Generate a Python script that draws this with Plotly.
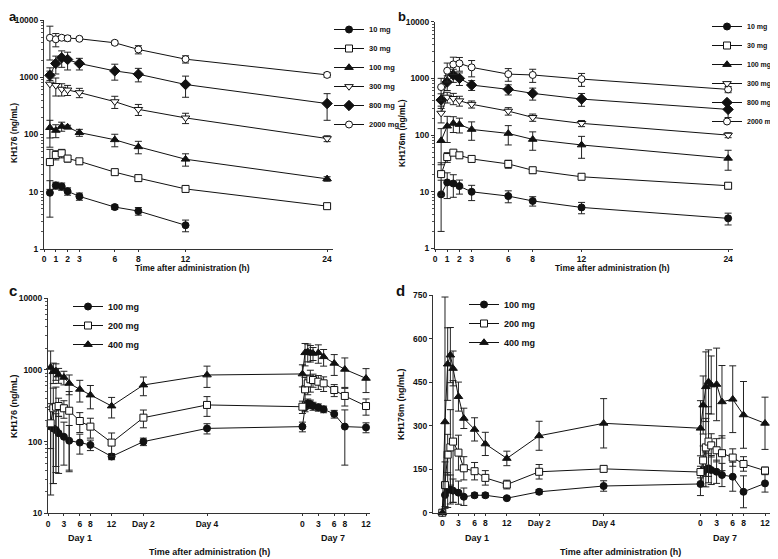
import plotly.graph_objects as go

# ---------------- data ----------------
TIME_AB = [0.5, 1, 1.5, 2, 3, 6, 8, 12, 24]
AB_TICKS = [0, 1, 2, 3, 6, 8, 12, 24]
DOSES_AB = ["10 mg", "30 mg", "100 mg", "300 mg", "800 mg", "2000 mg"]

A_MEAN = {
    "10 mg": [9.6, 12.9, 12.4, 10.2, 8.3, 5.4, 4.6, 2.6, None],
    "30 mg": [33, 44, 47, 38, 34, 22, 17.3, 11.2, 5.6],
    "100 mg": [132, 118, 139, 135, 108, 81, 61, 37, 16.8],
    "300 mg": [760, 720, 620, 600, 540, 375, 275, 195, 85],
    "800 mg": [1080, 1740, 2190, 2040, 1740, 1290, 1130, 747, 347],
    "2000 mg": [4900, 4600, 4900, 4800, 4700, 4000, 3060, 2070, 1100],
}
A_SD = {
    "10 mg": [6, 1.8, 1.8, 1.5, 1.2, 0.5, 0.7, 0.6, None],
    "30 mg": [22, 8, 8, 5, 4, 2, 2, 1, 0.5],
    "100 mg": [45, 30, 25, 10, 15, 20, 15, 9, 1.5],
    "300 mg": [700, 250, 150, 120, 100, 90, 60, 40, 10],
    "800 mg": [200, 600, 700, 700, 400, 400, 300, 300, 170],
    "2000 mg": [2900, 1200, 400, 500, 300, 300, 500, 300, 100],
}
B_MEAN = {
    "10 mg": [9.0, 14.6, 14.0, 12.6, 10.0, 8.4, 6.9, 5.3, 3.4],
    "30 mg": [20.5, 41, 49, 44, 38, 31, 24, 18.4, 12.8],
    "100 mg": [80, 144, 161, 154, 126, 107, 84, 67, 39],
    "300 mg": [244, 468, 444, 404, 350, 265, 205, 161, 100],
    "800 mg": [415, 861, 1150, 1000, 763, 640, 544, 432, 284],
    "2000 mg": [703, 1365, 1765, 1840, 1565, 1190, 1150, 973, 640],
}
B_SD = {
    "10 mg": [7, 7, 6, 3.5, 3, 2, 1.3, 1.2, 0.8],
    "30 mg": [12, 8, 4, 4, 4, 5, 3, 2, 1.5],
    "100 mg": [50, 70, 50, 45, 45, 40, 30, 28, 15],
    "300 mg": [80, 100, 100, 80, 50, 40, 30, 20, 10],
    "800 mg": [120, 250, 300, 250, 150, 130, 130, 110, 80],
    "2000 mg": [300, 500, 600, 500, 500, 300, 300, 250, 80],
}

# multiple-dose study (panels c, d): Day 1 hours, Day 2, Day 4, Day 7 hours
DAY1_H = [0, 0.5, 1, 1.5, 2, 3, 4, 6, 8, 12]
MID_DAYS = ["Day 2", "Day 4"]
DAY7_H = [0, 0.5, 1, 1.5, 2, 3, 4, 6, 8, 12]
HOUR_TICKS = [0, 3, 6, 8, 12]
DOSES_CD = ["100 mg", "200 mg", "400 mg"]

C_MEAN = {
    "100 mg": [None, 162, 153, 145, 131, 117, 103, 97, 90, 62, 100, 153,
               162, 301, 343, 335, 314, 301, 283, 243, 162, 158],
    "200 mg": [None, 180, 292, 307, 314, 292, 270, 194, 162, 97, 216, 325,
               307, 537, 651, 741, 724, 686, 651, 525, 434, 314],
    "400 mg": [None, 1089, 946, 967, 851, 789, 651, 537, 447, 314, 617, 851,
               880, 1741, 1798, 1741, 1706, 1741, 1531, 1239, 1021, 764],
}
C_SD = {
    "100 mg": [None, 144, 127, 100, 95, 70, 65, 30, 15, 6, 12, 25,
               25, 40, 50, 45, 40, 35, 30, 30, 115, 25],
    "200 mg": [None, 100, 266, 270, 90, 80, 230, 60, 50, 35, 60, 100,
               60, 250, 200, 250, 150, 150, 150, 100, 120, 80],
    "400 mg": [None, 750, 300, 250, 200, 170, 200, 180, 160, 100, 180, 280,
               300, 600, 500, 450, 350, 500, 400, 400, 450, 280],
}
D_MEAN = {
    "100 mg": [0, 61, 78, 80, 76, 69, 55, 60, 60, 50, 72, 92,
               99, 141, 149, 153, 147, 141, 130, 124, 72, 101],
    "200 mg": [0, 95, 200, 225, 245, 207, 153, 143, 120, 97, 141, 151,
               140, 180, 225, 245, 232, 215, 205, 190, 168, 145],
    "400 mg": [0, 313, 512, 543, 497, 400, 325, 287, 237, 187, 265, 308,
               291, 371, 434, 451, 440, 442, 382, 391, 337, 308],
}
D_SD = {
    "100 mg": [0, 40, 60, 50, 40, 40, 30, 8, 8, 5, 8, 18,
               40, 50, 60, 50, 50, 40, 40, 50, 55, 30],
    "200 mg": [0, 80, 70, 130, 210, 60, 40, 30, 25, 15, 25, 10,
               20, 50, 100, 120, 40, 40, 60, 30, 25, 12],
    "400 mg": [0, 430, 125, 95, 60, 50, 35, 40, 40, 25, 50, 85,
               95, 100, 120, 110, 100, 125, 125, 115, 115, 90],
}
D_YTICKS = [0, 150, 300, 450, 600, 750]

# ---------------- broken time axis for c/d ----------------
MID_POS = {"Day 2": 18, "Day 4": 30}
DAY7_OFFSET = 48
CD_X = DAY1_H + [MID_POS[d] for d in MID_DAYS] + [DAY7_OFFSET + h for h in DAY7_H]
CD_TICKVALS = HOUR_TICKS + [MID_POS[d] for d in MID_DAYS] + [DAY7_OFFSET + h for h in HOUR_TICKS]
CD_TICKTEXT = [str(h) for h in HOUR_TICKS] + MID_DAYS + [str(h) for h in HOUR_TICKS]

# ---------------- styles ----------------
FONT = "Liberation Sans, Arial, sans-serif"
BLACK = "#111111"
SYM_AB = {
    "10 mg": ("circle", BLACK),
    "30 mg": ("square", "white"),
    "100 mg": ("triangle-up", BLACK),
    "300 mg": ("triangle-down", "white"),
    "800 mg": ("diamond", BLACK),
    "2000 mg": ("circle", "white"),
}
SYM_CD = {
    "100 mg": ("circle", BLACK),
    "200 mg": ("square", "white"),
    "400 mg": ("triangle-up", BLACK),
}
MSIZE = {"circle": 7, "square": 7, "triangle-up": 7.5, "triangle-down": 7.5, "diamond": 8}

fig = go.Figure()


def add(x, y, sd, name, sym, xa, ya, legend):
    s, fill = sym
    fig.add_trace(go.Scatter(
        x=x, y=y, name=name, mode="lines+markers",
        xaxis=xa, yaxis=ya, legend=legend, cliponaxis=False,
        line=dict(color=BLACK, width=1),
        marker=dict(symbol=s, size=MSIZE[s], color=fill,
                    line=dict(color=BLACK, width=1)),
        error_y=dict(type="data", array=sd, visible=True,
                     color="#222222", thickness=1, width=3.5),
    ))


for d in DOSES_AB:
    add(TIME_AB, A_MEAN[d], A_SD[d], d, SYM_AB[d], "x", "y", "legend")
for d in DOSES_AB:
    add(TIME_AB, B_MEAN[d], B_SD[d], d, SYM_AB[d], "x2", "y2", "legend2")
for d in DOSES_CD:
    add(CD_X, C_MEAN[d], C_SD[d], d, SYM_CD[d], "x3", "y3", "legend3")
for d in DOSES_CD:
    add(CD_X, D_MEAN[d], D_SD[d], d, SYM_CD[d], "x4", "y4", "legend4")

# the page body has an 8px margin, so the figure is drawn 8px in from the corner
PAGE_OFF = 8
W, H = 778 - PAGE_OFF, 559 - PAGE_OFF


def px(xp):
    return (xp - PAGE_OFF) / W


def py(yp):
    return 1 - (yp - PAGE_OFF) / H


tickfont = dict(family=FONT, size=8.5, color=BLACK, weight="bold")
common = dict(showline=True, linecolor="#333333", linewidth=1, ticks="outside",
              ticklen=3, tickcolor="#333333", showgrid=False, zeroline=False,
              tickfont=tickfont)
common_x = dict(common, ticklen=2)
minor_log = dict(ticks="outside", ticklen=2, tickcolor="#555555", dtick="D1", showgrid=False)

log_ticks = [1, 10, 100, 1000, 10000]

fig.update_layout(
    width=W, height=H, margin=dict(l=0, r=0, t=0, b=0, autoexpand=False),
    paper_bgcolor="white", plot_bgcolor="white",
    font=dict(family=FONT, color=BLACK),
    xaxis=dict(domain=[px(44), px(333)], range=[0, 24.5], anchor="y",
               tickvals=AB_TICKS, **common_x),
    yaxis=dict(domain=[py(249), py(20)], type="log", range=[0, 4], anchor="x",
               tickvals=log_ticks, ticktext=[str(v) for v in log_ticks],
               minor=minor_log, **common),
    xaxis2=dict(domain=[px(435), px(733)], range=[0, 24.4], anchor="y2",
                tickvals=AB_TICKS, **common_x),
    yaxis2=dict(domain=[py(248.5), py(21.7)], type="log", range=[0, 4], anchor="x2",
                tickvals=log_ticks, ticktext=[str(v) for v in log_ticks],
                minor=minor_log, **common),
    xaxis3=dict(domain=[px(48), px(370)], range=[0, 60.75], anchor="y3",
                tickvals=CD_TICKVALS, ticktext=CD_TICKTEXT, **common_x),
    yaxis3=dict(domain=[py(513.3), py(298.3)], type="log", range=[1, 4], anchor="x3",
                tickvals=log_ticks[1:], ticktext=[str(v) for v in log_ticks[1:]],
                minor=minor_log, **common),
    xaxis4=dict(domain=[px(433), px(770)], range=[-1.73, 60.93], anchor="y4",
                tickvals=CD_TICKVALS, ticktext=CD_TICKTEXT, **common_x),
    yaxis4=dict(domain=[py(512.7), py(295)], range=[0, 750], anchor="x4",
                tickvals=D_YTICKS, **common),
)

leg_common = dict(bgcolor="rgba(0,0,0,0)", borderwidth=0, tracegroupgap=0,
                  itemwidth=30, yanchor="top", xanchor="left")
fig.update_layout(
    legend=dict(x=px(329), y=py(15), font=dict(family=FONT, size=7.5, color=BLACK, weight="bold"), **leg_common),
    legend2=dict(x=px(707), y=py(12), font=dict(family=FONT, size=7, color=BLACK, weight="bold"), **leg_common),
    legend3=dict(x=px(68), y=py(292), font=dict(family=FONT, size=9, color=BLACK, weight="bold"), **leg_common),
    legend4=dict(x=px(464), y=py(290), font=dict(family=FONT, size=9, color=BLACK, weight="bold"), **leg_common),
)

ann = []


def text(x, y, s, size=8.5, angle=0, xanchor="center", yanchor="middle", pad=1):
    ann.append(dict(x=x, y=y, xref="paper", yref="paper", text=s, showarrow=False,
                    textangle=angle, xanchor=xanchor, yanchor=yanchor, borderpad=pad,
                    font=dict(family=FONT, size=size, color=BLACK, weight="bold")))


# panel letters (sit just above-left of the top tick label)
text(px(8), py(8), "a", size=13, xanchor="left", yanchor="top", pad=0)
text(px(397), py(8), "b", size=13, xanchor="left", yanchor="top", pad=0)
text(px(8), py(281), "c", size=15, xanchor="left", yanchor="top", pad=0)
text(px(395), py(281), "d", size=15, xanchor="left", yanchor="top", pad=0)
# axis titles
text(px(192), py(268), "Time after administration (h)", size=8.5)
text(px(612), py(268), "Time after administration (h)", size=8.5)
text(px(210), py(552), "Time after administration (h)", size=9)
text(px(620), py(552), "Time after administration (h)", size=9)
text(px(14), py(133), "KH176 (ng/mL)", size=8.5, angle=-90)
text(px(402), py(133), "KH176m (ng/mL)", size=8.5, angle=-90)
text(px(14), py(406), "KH176 (ng/mL)", size=9, angle=-90)
text(px(401), py(404), "KH176m (ng/mL)", size=9, angle=-90)
# day labels
text(px(80), py(538), "Day 1", size=9)
text(px(333), py(538), "Day 7", size=9)
text(px(477), py(538), "Day 1", size=9)
text(px(725), py(538), "Day 7", size=9)
fig.update_layout(annotations=ann)

fig.write_html("out.html")
